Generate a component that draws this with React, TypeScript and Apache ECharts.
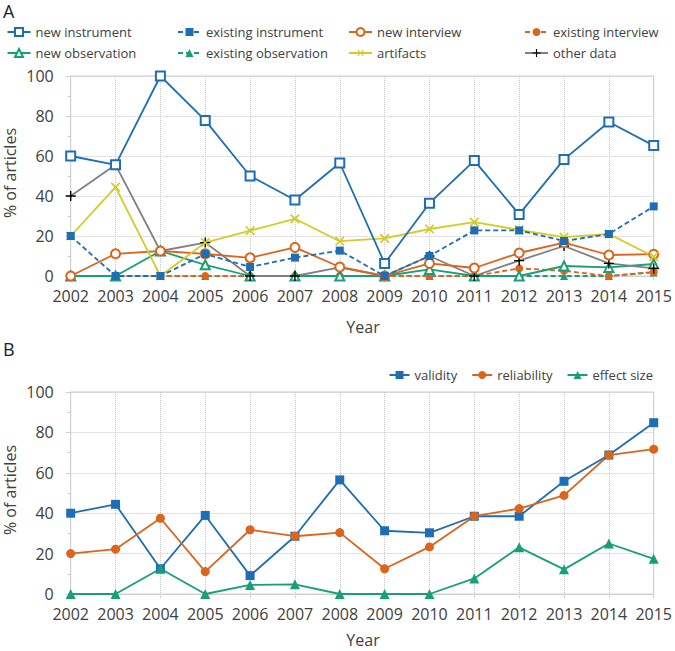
import React, { useEffect, useRef } from "react";
import * as echarts from "echarts";

const years = ["2002", "2003", "2004", "2005", "2006", "2007", "2008", "2009", "2010", "2011", "2012", "2013", "2014", "2015"];
const yTicks = [0, 20, 40, 60, 80, 100];

// Panel A
const newInstrument = [60, 55.6, 100, 77.8, 50, 38, 56.5, 6.3, 36.4, 57.7, 30.8, 58.3, 77, 65.2];
const existingInstrument = [20, 0, 0, 11, 4.5, 9.2, 12.7, 0, 10, 22.8, 22.8, 17.5, 21, 34.8];
const newInterview = [0, 11.1, 12.5, 11.1, 9.1, 14.3, 4.5, 0, 6.3, 4, 11.5, 16.7, 10.5, 10.9];
const existingInterview = [0, 0, 0, 0, 0, 0, 0, 0, 0, 0, 3.8, 2.6, 0, 2];
const newObservation = [0, 0, 12.5, 5.6, 0, 0, 0, 0, 3.3, 0, 0, 5, 4.3, 6];
const existingObservation = [0, 0, 0, 0, 0, 0, 0, 0, 0, 0, 0, 0, 0, 1.8];
const artifacts = [20, 44.4, 0, 16.7, 22.7, 28.6, 17.4, 18.8, 23.5, 26.9, 23.1, 19.4, 21, 9.7];
const otherData = [40, 55.6, 12.5, 16.7, 0, 0, 4.3, 0, 10, 0, 7.7, 15, 6.3, 3.8];

// Panel B
const validity = [40, 44.4, 12.5, 38.9, 9.1, 28.6, 56.5, 31.3, 30.3, 38.5, 38.5, 55.8, 68.8, 84.8];
const reliability = [20, 22.2, 37.5, 11.1, 31.8, 28.6, 30.4, 12.5, 23.3, 38.5, 42.3, 48.8, 68.8, 71.7];
const effectSize = [0, 0, 12.5, 0, 4.5, 4.8, 0, 0, 0, 7.7, 23.1, 12.2, 25, 17.4];

const BLUE = "#1F6DB5";
const ORANGE = "#DC641C";
const GREEN = "#17A078";
const YELLOW = "#D4CA2A";
const GRAY = "#808080";
const TEXT = "#404040";
const FONT = "'Open Sans', sans-serif";
const PLUS = "path://M4.3,0H5.7V4.3H10V5.7H5.7V10H4.3V5.7H0V4.3H4.3Z";

function mkLine(name: string, data: number[], idx: number, color: string, opts: any = {}) {
  const mc = opts.markerColor || color;
  return {
    type: "line",
    name,
    data,
    xAxisIndex: idx,
    yAxisIndex: idx,
    symbol: opts.symbol || "rect",
    symbolSize: opts.symbolSize || 8,
    symbolRotate: opts.symbolRotate || 0,
    showAllSymbol: true,
    lineStyle: { color: opts.lineColor || color, width: 1.8, type: opts.dashed ? [5, 3] : "solid" },
    itemStyle: opts.empty
      ? { color: mc, borderColor: mc, borderWidth: 1.4 }
      : { color: mc, borderWidth: 0 },
    z: opts.z || 2,
  };
}

function xAxis(gridIndex: number) {
  return {
    type: "category",
    gridIndex,
    data: years,
    boundaryGap: false,
    axisLine: { show: true, lineStyle: { color: "#D0D0D0", width: 1 } },
    axisTick: { show: true, length: 4, interval: 0, lineStyle: { color: "#D0D0D0" } },
    axisLabel: { color: TEXT, fontFamily: FONT, fontSize: 16, margin: 12, interval: 0, hideOverlap: false },
    splitLine: { show: true, interval: 0, lineStyle: { color: "#C8C8C8", type: "dotted", width: 1 } },
  };
}

function yAxis(gridIndex: number) {
  return {
    type: "value",
    gridIndex,
    min: yTicks[0],
    max: yTicks[yTicks.length - 1],
    interval: yTicks[1] - yTicks[0],
    axisLine: { show: true, lineStyle: { color: "#D0D0D0", width: 1 } },
    axisTick: { show: true, length: 5, lineStyle: { color: "#D0D0D0" } },
    minorTick: { show: true, splitNumber: 2, length: 3, lineStyle: { color: "#C8C8C8" } },
    axisLabel: { color: TEXT, fontFamily: FONT, fontSize: 16, margin: 17 },
    splitLine: { show: true, lineStyle: { color: "#C8C8C8", type: "dotted", width: 1 } },
  };
}

const legendText = { color: TEXT, fontFamily: FONT, fontSize: 13, lineHeight: 14 };

function legendCol(left: number, names: string[]) {
  return {
    orient: "vertical",
    left,
    top: 25,
    padding: 0,
    itemWidth: 23,
    itemHeight: 10,
    itemGap: 7,
    textStyle: legendText,
    data: names,
  };
}

export default function App() {
  const ref = useRef<HTMLDivElement>(null);
  useEffect(() => {
    if (!ref.current) return;
    const chart = echarts.init(ref.current, undefined, { renderer: "svg" });
    chart.setOption({
      animation: false,
      backgroundColor: "#fff",
      grid: [
        { left: 70.7, top: 76, width: 585, height: 200, show: true, borderColor: "#D0D0D0", borderWidth: 1 },
        { left: 70.7, top: 392, width: 585, height: 202, show: true, borderColor: "#D0D0D0", borderWidth: 1 },
      ],
      xAxis: [xAxis(0), xAxis(1)],
      yAxis: [yAxis(0), yAxis(1)],
      legend: [
        legendCol(6.5, ["new instrument", "new observation"]),
        legendCol(177, ["existing instrument", "existing observation"]),
        legendCol(348, ["new interview", "artifacts"]),
        legendCol(524, ["existing interview", "other data"]),
        {
          orient: "horizontal",
          right: 22,
          top: 368,
          padding: 0,
          itemWidth: 20,
          itemHeight: 10,
          itemGap: 14,
          textStyle: legendText,
          data: ["validity", "reliability", "effect size"],
        },
      ],
      graphic: [
        { type: "text", left: 3, top: 2, style: { text: "A", font: `18px ${FONT}`, fill: "#222" } },
        { type: "text", left: 3, top: 340, style: { text: "B", font: `18px ${FONT}`, fill: "#222" } },
        { type: "text", x: 10, y: 173, rotation: Math.PI / 2, style: { text: "% of articles", font: `16px ${FONT}`, fill: TEXT, align: "center", verticalAlign: "middle" } },
        { type: "text", x: 10, y: 490, rotation: Math.PI / 2, style: { text: "% of articles", font: `16px ${FONT}`, fill: TEXT, align: "center", verticalAlign: "middle" } },
        { type: "text", x: 363, y: 327, style: { text: "Year", font: `16px ${FONT}`, fill: TEXT, align: "center", verticalAlign: "middle" } },
        { type: "text", x: 363, y: 640, style: { text: "Year", font: `16px ${FONT}`, fill: TEXT, align: "center", verticalAlign: "middle" } },
      ],
      series: [
        mkLine("existing observation", existingObservation, 0, GREEN, { symbol: "triangle", symbolSize: 8, dashed: true }),
        mkLine("existing interview", existingInterview, 0, ORANGE, { symbol: "circle", symbolSize: 8, dashed: true }),
        mkLine("new observation", newObservation, 0, GREEN, { symbol: "emptyTriangle", symbolSize: 9, empty: true }),
        mkLine("other data", otherData, 0, GRAY, { symbol: PLUS, symbolSize: 10, markerColor: "#000", lineColor: GRAY }),
        mkLine("new interview", newInterview, 0, ORANGE, { symbol: "emptyCircle", symbolSize: 9, empty: true }),
        mkLine("artifacts", artifacts, 0, YELLOW, { symbol: PLUS, symbolSize: 12, symbolRotate: 45 }),
        mkLine("existing instrument", existingInstrument, 0, BLUE, { symbol: "rect", symbolSize: 8, dashed: true }),
        mkLine("new instrument", newInstrument, 0, BLUE, { symbol: "emptyRect", symbolSize: 9, empty: true, z: 3 }),
        mkLine("validity", validity, 1, BLUE, { symbol: "rect", symbolSize: 9 }),
        mkLine("reliability", reliability, 1, ORANGE, { symbol: "circle", symbolSize: 9 }),
        mkLine("effect size", effectSize, 1, GREEN, { symbol: "triangle", symbolSize: 10 }),
      ],
    });
    return () => chart.dispose();
  }, []);
  return <div ref={ref} style={{ position: "fixed", left: 0, top: 0, width: 675, height: 651 }} />;
}
